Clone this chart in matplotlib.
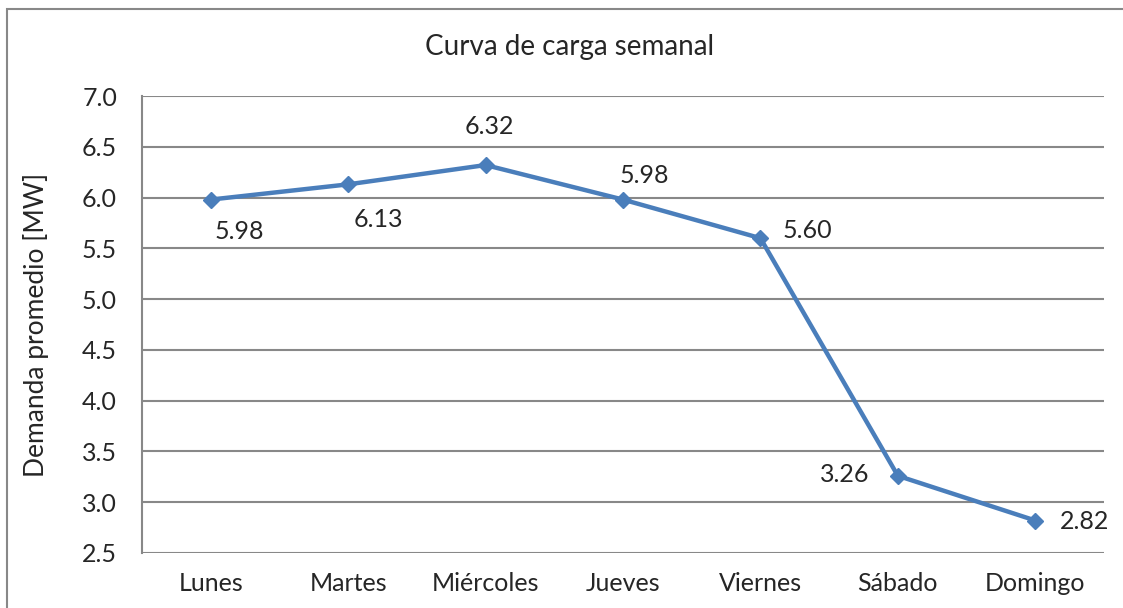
import matplotlib
matplotlib.use("Agg")
import matplotlib.pyplot as plt
from matplotlib.patches import Rectangle

dias = ["Lunes", "Martes", "Miércoles", "Jueves", "Viernes", "Sábado", "Domingo"]
demanda = [5.98, 6.13, 6.32, 5.98, 5.60, 3.26, 2.82]
etiquetas = ["5.98", "6.13", "6.32", "5.98", "5.60", "3.26", "2.82"]

# offsets de etiquetas en pixeles (como en el original)
offsets = [(29, -32), (30, -35), (4, 39), (21, 24), (47, 8), (-53, 1), (49, -1)]

plt.rcParams['font.family'] = ['Lato', 'DejaVu Sans']

txt = '#262626'
fig = plt.figure(figsize=(11.23, 6.08), dpi=100)
fig.patch.set_facecolor('white')

# marco exterior del grafico
fig.patches.append(Rectangle((7/1123, -0.1), 1.2, 1.1 - 9/608, transform=fig.transFigure,
                             fill=False, edgecolor='#888888', lw=1.5))

ax = fig.add_axes([142/1123, 1 - 553/608, (1104 - 142)/1123, (553 - 96)/608])
x = list(range(len(dias)))
ax.plot(x, demanda, color='#4a7ebb', lw=3.2, marker='D', markersize=8.5, zorder=3)

for i, (v, t) in enumerate(zip(demanda, etiquetas)):
    dx, dy = offsets[i]
    ax.annotate(t, (i, v), xytext=(dx * 0.72, dy * 0.72), textcoords='offset points',
                ha='center', va='center', fontsize=18, color=txt)

ax.set_xlim(-0.5, 6.5)
ax.set_ylim(2.5, 7.0)
ax.set_yticks([2.5, 3.0, 3.5, 4.0, 4.5, 5.0, 5.5, 6.0, 6.5, 7.0])
ax.set_yticklabels(["%.1f" % v for v in ax.get_yticks()])
ax.set_xticks(x)
ax.set_xticklabels(dias)
ax.tick_params(length=0, labelsize=18, colors=txt)
ax.tick_params(axis='x', pad=14)
ax.tick_params(axis='y', pad=18)
ax.grid(axis='y', color='#888888', lw=1.5)
ax.set_axisbelow(True)
for s in ['top', 'right', 'bottom']:
    ax.spines[s].set_visible(False)
ax.spines['left'].set_color('#888888')
ax.spines['left'].set_linewidth(1.5)

ax.set_ylabel("Demanda promedio [MW]", fontsize=19, color=txt, labelpad=24)
fig.text(570/1123, 1 - 47/608, "Curva de carga semanal", ha='center', va='center',
         fontsize=20, color=txt)

fig.savefig("out.png", dpi=100)
